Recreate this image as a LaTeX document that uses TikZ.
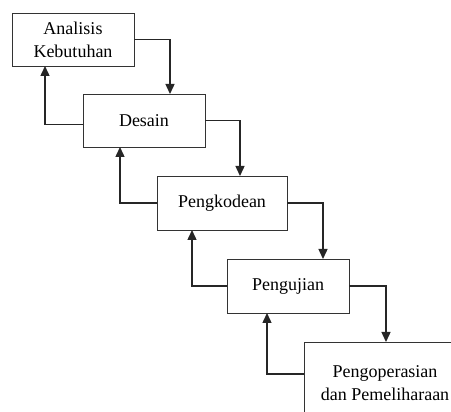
\documentclass[tikz,border=0pt]{standalone}
\usepackage{fontspec}
\setmainfont{Liberation Serif}
\usepackage{tikz}
\usetikzlibrary{arrows.meta}

\begin{document}
\begin{tikzpicture}[x=1pt,y=-1pt,font=\fontsize{18}{23}\selectfont]
    \tikzstyle{step box}=[rectangle,draw=black!80,line width=0.8pt,inner sep=0,outer sep=0,align=center,minimum height=53,minimum width=122]
    \tikzstyle{flow}=[-{Triangle[length=10pt,width=9pt]},draw=black!85,line width=1.4pt]
    \useasboundingbox (0,0) rectangle (451,412);
    \clip (0,0) rectangle (451,412);

    \node(0)[step box] at (73,39.5) {Analisis\\Kebutuhan};
    \node(1)[step box] at (144,120.5) {Desain};
    \node(2)[step box,minimum width=130,minimum height=54] at (222,203) {Pengkodean};
    \node(3)[step box,minimum height=54] at (288,286) {Pengujian};
    \node(4)[step box,minimum width=162,minimum height=82] at (385,383) {Pengoperasian\\dan Pemeliharaan};

    % turun
    \draw[flow] (0.east) -| ([xshift=26pt]1.north);
    \draw[flow] (1.east) -| ([xshift=18pt]2.north);
    \draw[flow] (2.east) -| ([xshift=35pt]3.north);
    \draw[flow] (3.east) -| ([xshift=1pt]4.north);

    % balik
    \draw[flow] ([yshift=-4pt]1.west) -| ([xshift=-28pt]0.south);
    \draw[flow] (2.west) -| ([xshift=-24pt]1.south);
    \draw[flow] (3.west) -| ([xshift=-30pt]2.south);
    \draw[flow] ([yshift=9pt]4.west) -| ([xshift=-21pt]3.south);
\end{tikzpicture}
\end{document}
